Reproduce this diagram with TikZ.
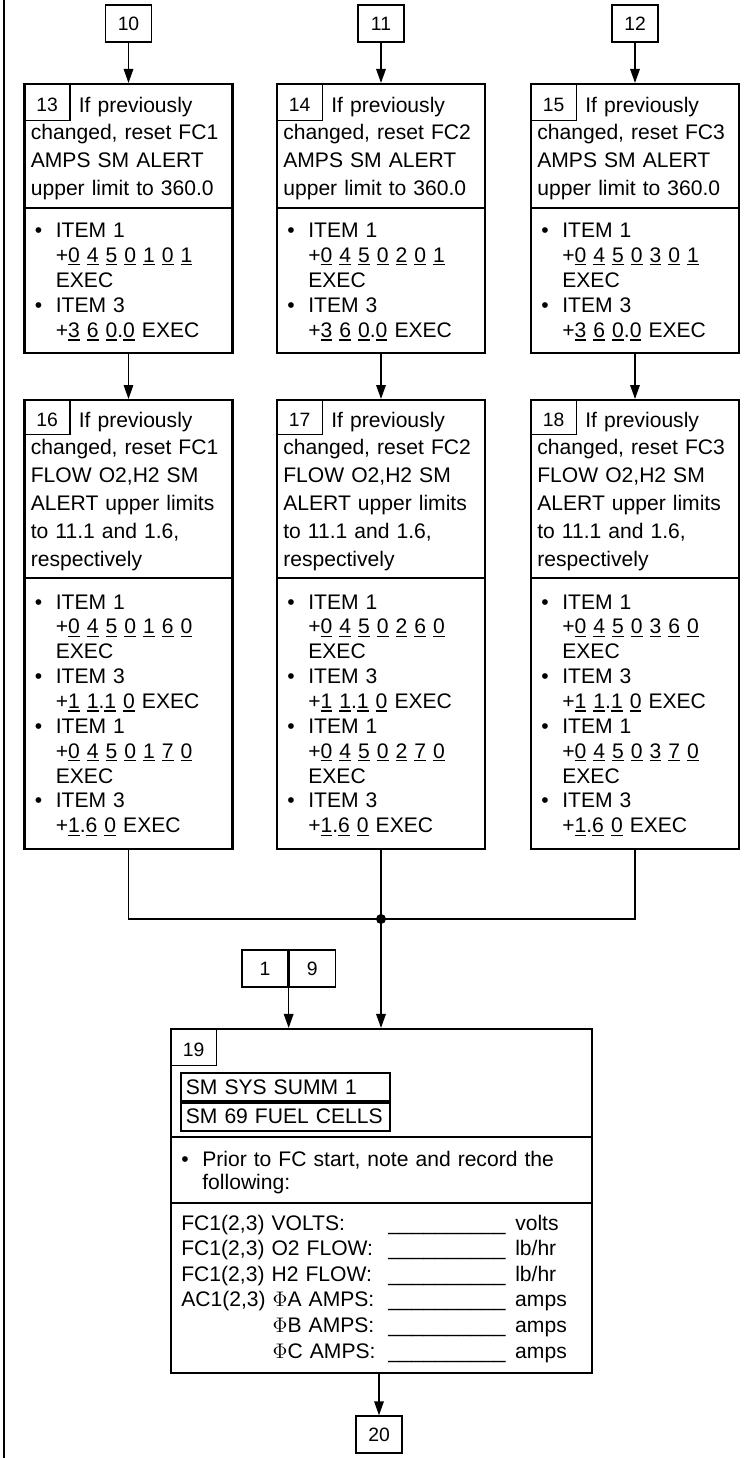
\documentclass[tikz,border=0pt]{standalone}
\usepackage{fontspec}
\setmainfont{Liberation Sans}
\usetikzlibrary{arrows.meta,positioning}

\newsavebox{\udbox}
\newcommand{\ud}[1]{\sbox{\udbox}{#1}\rlap{\rule[-1.75pt]{\wd\udbox}{0.75pt}}\usebox{\udbox}}
\newcommand{\itm}[1]{\makebox[0.5cm][l]{\hspace{0.08cm}\textbullet}#1}
\newcommand{\ind}{\hspace*{0.5cm}}
\newcommand{\blank}{\_\_\_\_\_\_\_\_\_\_}
\newcommand{\rec}[2]{\makebox[4.14cm][l]{#1}\makebox[2.54cm][l]{\blank}#2}

\begin{document}
\begin{tikzpicture}[x=0.02cm, y=-0.02cm, >={Triangle[length=0.28cm,width=0.19cm]},
    font=\fontsize{12}{15.85}\selectfont,
    stepbox/.style={draw, line width=1.2pt, inner sep=0pt},
    numbox/.style={draw, line width=0.75pt, inner sep=0pt, minimum width=0.92cm, minimum height=0.74cm, font=\fontsize{11}{13}\selectfont},
    tagbox/.style={numbox, anchor=north west, text height=0.38cm, text depth=0cm},
    menubox/.style={draw, line width=1pt, inner xsep=0.1cm, inner ysep=0pt, text width=3.98cm, minimum height=0.56cm},
    txt/.style={inner sep=0pt, text width=#1, align=left, anchor=base west},
    flow/.style={line width=0.9pt},
    sep/.style={line width=1.2pt}]
    \useasboundingbox (0,0) rectangle (744,1458);
    % page rule
    \draw[line width=1.1pt] (4,0) -- (4,1458);

    % one column per fuel cell
    \foreach \i/\x [evaluate=\i as \nt using int(9+\i), evaluate=\i as \na using int(12+\i), evaluate=\i as \nb using int(15+\i)] in {1/128.5,2/381,3/635} {
        \node[numbox] (in\i) at (\x,23.5) {\nt};
        % AMPS limit
        \node[stepbox, minimum width=4.16cm, minimum height=5.38cm] (amp\i) at (\x,218.5) {};
        \node[tagbox] (na\i) at (amp\i.north west) {\na};
        \node[txt=4cm] (ha\i) at (\x-98,112) {\hspace*{0.96cm}If previously\\changed, reset FC\i\\AMPS SM ALERT\\upper limit to 360.0};
        \draw[sep] (\x-104,208) -- (\x+104,208);
        \node[txt=4cm, font=\fontsize{12}{14.3}\selectfont] (ia\i) at (\x-98,237) {\itm{ITEM 1}\\ \ind+\ud{0}~\ud{4}~\ud{5}~\ud{0}~\ud{\i}~\ud{0}~\ud{1}\\ \ind EXEC\\ \itm{ITEM 3}\\ \ind+\ud{3}~\ud{6}~\ud{0}.\ud{0} EXEC};
        % FLOW limits
        \node[stepbox, minimum width=4.16cm, minimum height=8.98cm] (flw\i) at (\x,624.5) {};
        \node[tagbox, minimum height=0.7cm] (nb\i) at (flw\i.north west) {\nb};
        \node[txt=4cm] (hb\i) at (\x-98,427) {\hspace*{0.96cm}If previously\\changed, reset FC\i\\FLOW O2,H2 SM\\ALERT upper limits\\to 11.1 and 1.6,\\respectively};
        \draw[sep] (\x-104,578) -- (\x+104,578);
        \node[txt=4cm, font=\fontsize{12}{14.15}\selectfont] (ib\i) at (\x-98,609) {\itm{ITEM 1}\\ \ind+\ud{0}~\ud{4}~\ud{5}~\ud{0}~\ud{\i}~\ud{6}~\ud{0}\\ \ind EXEC\\ \itm{ITEM 3}\\ \ind+\ud{1}~\ud{1}.\ud{1}~\ud{0} EXEC\\ \itm{ITEM 1}\\ \ind+\ud{0}~\ud{4}~\ud{5}~\ud{0}~\ud{\i}~\ud{7}~\ud{0}\\ \ind EXEC\\ \itm{ITEM 3}\\ \ind+\ud{1}.\ud{6}~\ud{0} EXEC};
        \draw[->, flow] (in\i) -- (amp\i);
        \draw[->, flow] (amp\i) -- (flw\i);
    }

    % merge
    \coordinate (jn) at (381,919);
    \draw[flow] (flw1.south) |- (jn) -| (flw3.south);
    \draw[flow] (flw2.south) -- (jn);
    \fill (jn) circle[radius=0.1cm];

    % record step
    \node[stepbox, minimum width=8.42cm, minimum height=6.88cm] (s19) at (381.5,1201) {};
    \node[tagbox] (n19) at (s19.north west) {19};
    \draw[->, flow] (jn) -- (jn |- s19.north);
    \node[numbox] (c1) at (265,968.5) {1};
    \node[numbox, right=0pt of c1] (c9) {9};
    \draw[->, flow] (c1.south east) -- (c1.south east |- s19.north);
    \node[menubox, anchor=north west] (sm1) at (180,1072) {SM SYS SUMM 1};
    \node[menubox, below=0pt of sm1] (sm2) {SM 69 FUEL CELLS};
    \draw[sep] (171,1137) -- (592,1137);
    \node[txt=7.9cm, font=\fontsize{12}{13.1}\selectfont] (p19) at (177,1166) {\itm{Prior to FC start, note and record the}\\ \ind following:};
    \draw[sep] (171,1203) -- (592,1203);
    \node[txt=8cm, font=\fontsize{12}{14.57}\selectfont] (r19) at (181,1230) {\rec{FC1(2,3) VOLTS:}{volts}\\
        \rec{FC1(2,3) O2 FLOW:}{lb/hr}\\
        \rec{FC1(2,3) H2 FLOW:}{lb/hr}\\
        \rec{AC1(2,3) $\Phi$A AMPS:}{amps}\\
        \rec{\phantom{AC1(2,3) }$\Phi$B AMPS:}{amps}\\
        \rec{\phantom{AC1(2,3) }$\Phi$C AMPS:}{amps}};

    \node[numbox] (out) at (379,1434.5) {20};
    \draw[->, flow] (s19.south -| out) -- (out);
\end{tikzpicture}
\end{document}
